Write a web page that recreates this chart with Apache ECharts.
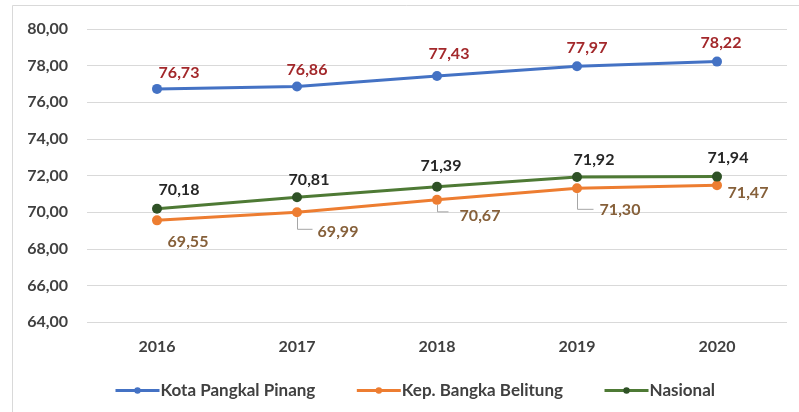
<!DOCTYPE html>
<html>
<head>
<meta charset="utf-8">
<script src="https://cdn.jsdelivr.net/npm/echarts@6/dist/echarts.min.js"></script>
<style>
  html, body { margin: 0; padding: 0; background: #ffffff; }
  #chart { width: 799px; height: 412px; }
</style>
</head>
<body>
<div id="chart"></div>
<script>
// Years on the category axis
const years = ['2016', '2017', '2018', '2019', '2020'];

// Index values per region
const kotaPangkalPinang = [76.73, 76.86, 77.43, 77.97, 78.22];
const bangkaBelitung = [69.55, 69.99, 70.67, 71.30, 71.47];
const nasional = [70.18, 70.81, 71.39, 71.92, 71.94];

// Value axis range
const yMin = 64;
const yMax = 80;
const yStep = 2;

// Label placement (pixel offsets from each point)
const kotaLabelOffsets = [[22, -16], [10, -17], [12, -22], [10, -18], [4, -19]];
const nasLabelOffsets = [[22, -19], [12, -17], [4, -21], [17, -17], [11, -19]];
const bangkaLabelOffsets = [[31, 21], [41, 20], [43, 16], [43, 22], [31, 8]];
// Elbow leader lines for the lower labels: [drop, run] or null
const bangkaLeaders = [null, [17, 15], [12, 11], [21, 16], null];

const FONT = 'Lato';
const fmt = v => Number(v).toFixed(2).replace('.', ',');

function withLabels(values, offsets) {
  return values.map((v, i) => ({
    value: v,
    label: { offset: offsets[i] }
  }));
}

function labelStyle(color) {
  return {
    show: true,
    position: 'inside',
    color: color,
    fontFamily: FONT,
    fontWeight: 'bold',
    fontSize: 16,
    formatter: p => fmt(p.value)
  };
}

const chart = echarts.init(document.getElementById('chart'), null, { renderer: 'canvas' });

chart.setOption({
  animation: false,
  backgroundColor: '#ffffff',
  textStyle: { fontFamily: FONT },
  graphic: [{
    type: 'rect',
    silent: true,
    z: -10,
    shape: { x: 12.5, y: 5.5, width: 900, height: 500 },
    style: { fill: 'none', stroke: '#D9D9D9', lineWidth: 1 }
  }],
  grid: { left: 87, right: 12, top: 29, bottom: 90, containLabel: false },
  legend: {
    left: 109,
    top: 377,
    itemWidth: 44,
    itemHeight: 8,
    itemGap: 40,
    lineStyle: { width: 3 },
    textStyle: { color: '#404040', fontFamily: FONT, fontWeight: 'bold', fontSize: 17, padding: [0, 0, 0, -4] },
    data: ['Kota Pangkal Pinang', 'Kep. Bangka Belitung', 'Nasional']
  },
  xAxis: {
    type: 'category',
    data: years,
    boundaryGap: true,
    axisLine: { show: false },
    axisTick: { show: false },
    axisLabel: { color: '#404040', fontFamily: FONT, fontWeight: 'bold', fontSize: 16, margin: 17 }
  },
  yAxis: {
    type: 'value',
    min: yMin,
    max: yMax,
    interval: yStep,
    axisLine: { show: false },
    axisTick: { show: false },
    splitLine: { lineStyle: { color: '#D9D9D9', width: 1 } },
    axisLabel: {
      color: '#404040', fontFamily: FONT, fontWeight: 'bold', fontSize: 16, margin: 19,
      formatter: v => fmt(v)
    }
  },
  series: [
    {
      name: 'Kota Pangkal Pinang',
      type: 'line',
      data: withLabels(kotaPangkalPinang, kotaLabelOffsets),
      symbol: 'circle',
      symbolSize: 10,
      lineStyle: { color: '#4472C4', width: 3 },
      itemStyle: { color: '#4472C4' },
      label: labelStyle('#A3282B'),
      z: 3
    },
    {
      name: 'Kep. Bangka Belitung',
      type: 'line',
      data: withLabels(bangkaBelitung, bangkaLabelOffsets),
      symbol: 'circle',
      symbolSize: 10,
      lineStyle: { color: '#ED7D31', width: 3 },
      itemStyle: { color: '#ED7D31' },
      label: labelStyle('#86603A'),
      z: 3
    },
    {
      name: 'Nasional',
      type: 'line',
      data: withLabels(nasional, nasLabelOffsets),
      symbol: 'circle',
      symbolSize: 10,
      lineStyle: { color: '#4E7A35', width: 3 },
      itemStyle: { color: '#2F5226' },
      label: labelStyle('#262626'),
      z: 4
    },
    {
      // Leader lines tying the shifted lower labels to their points
      type: 'custom',
      silent: true,
      z: 2,
      data: bangkaBelitung.map((v, i) => [i, v]),
      renderItem: function (params, api) {
        const i = params.dataIndex;
        const leader = bangkaLeaders[i];
        if (!leader) return null;
        const pt = api.coord([api.value(0), api.value(1)]);
        const x = Math.round(pt[0]) + 0.5;
        const y = pt[1];
        return {
          type: 'polyline',
          shape: { points: [[x, y + 5], [x, y + leader[0]], [x + leader[1], y + leader[0]]] },
          style: { stroke: '#A6A6A6', lineWidth: 1, fill: 'none' }
        };
      }
    }
  ]
});
</script>
</body>
</html>
